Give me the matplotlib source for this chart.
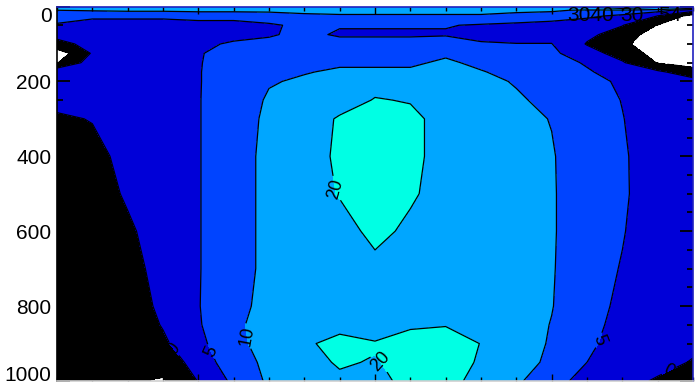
import numpy as np
import matplotlib.pyplot as plt
from matplotlib.ticker import MultipleLocator

plt.rcParams['font.family'] = ['Liberation Sans Narrow', 'Liberation Sans', 'DejaVu Sans']

# grid of the section
lon = [110, 120, 130, 140, 150, 160, 170, 180, 190, 200, 210, 220, 230, 240, 250, 260, 270, 280, 290]
depth = [0, 10, 25, 50, 75, 100, 125, 150, 175, 200, 250, 300, 400, 500, 600, 700, 800, 850, 900, 950, 1000]

# values down each column (same order as depth)
col_110 = [12, 10, 7, 4.5, 1, -1, -8, -5.3, 4, 4, 2, -1, -3, -3, -3, -3, -3, -3, -3, -3, -3]
col_120 = [12, 10.5, 5.5, 4, 3, 1, 0.5, 2.5, 4, 4, 3, 0.3, -2, -3, -3, -3, -3, -3, -3, -3, -3]
col_130 = [12.5, 11, 5.5, 4, 4, 4, 4, 4, 4, 4, 3.5, 3, 2, 0.8, -1, -2, -2.5, -3, -3, -3.5, -4.5]
col_140 = [13, 11, 5.5, 4, 4, 4.2, 4.2, 4.2, 4.2, 4.2, 4, 4, 3.8, 3.5, 3, 2, 1, 0.3, -0.8, -3, -5.5]
col_150 = [13, 11.5, 6, 4, 4, 4.5, 4.8, 4.8, 4.8, 4.8, 4.8, 4.8, 4.8, 4.8, 4.8, 4.8, 4.8, 4.5, 3.5, 2, 0.2]
col_160 = [13.5, 11.5, 6, 4, 4.3, 5.3, 6, 6.5, 7, 7, 7.5, 7.5, 7.5, 7.5, 7.5, 7.5, 8.5, 9.5, 9.3, 8, 6]
col_170 = [14, 11.5, 7, 4.5, 4.6, 6, 7, 8, 8.8, 9.7, 10.5, 11, 11.5, 11.5, 11.5, 11.5, 11.5, 11, 11, 11, 10.8]
col_180 = [14, 11.5, 9, 5.8, 6, 7, 8, 9, 9.8, 10.5, 13, 15, 16, 16, 15.5, 15, 17.5, 18, 19.5, 19, 17.5]
col_190 = [14, 11.5, 9.5, 5.3, 4.5, 6.5, 8, 9.5, 10.5, 12, 16, 21, 21.5, 20.5, 17, 16, 18, 19, 21, 20.3, 19.5]
col_200 = [14, 11.5, 9.5, 5.3, 4.5, 6.5, 8, 9.5, 10.5, 17, 20.5, 23, 23.5, 23, 22, 18, 17.5, 18, 20.3, 19.8, 19.5]
col_210 = [14, 11.5, 9.5, 5.3, 4.5, 6.5, 8, 9.5, 10.5, 15, 19.5, 22, 22, 21, 18.5, 16, 18, 19.5, 21.5, 21, 20.5]
col_220 = [14, 11.5, 9.5, 5.3, 4.5, 8, 9.5, 10.5, 11.5, 13, 15, 17, 17, 17, 16, 15, 18.5, 19.8, 22, 22, 21.5]
col_230 = [14, 11.5, 9.5, 4.5, 3.5, 5.5, 7.5, 9.3, 10.2, 11, 12.5, 13.5, 14, 14, 14, 14, 16, 17, 19.9, 19.5, 18.5]
col_240 = [14.5, 11.5, 8, 4, 3.5, 5.1, 6.5, 8, 9, 9.7, 10.5, 11.5, 12, 12, 12, 12, 12.5, 12.5, 12.5, 12, 10.5]
col_250 = [15, 11, 7, 3.5, 3.5, 5.1, 6, 7, 7.5, 8, 9, 9.8, 10.4, 10.5, 10.5, 10.4, 10.2, 9.8, 9.5, 9, 8]
col_260 = [22, 9, 6, 2, 1, -0.3, 2, 4.5, 5.5, 6, 6.5, 6.5, 6.8, 6.8, 6.8, 6.5, 6.3, 6, 5.7, 5, 2]
col_270 = [32, 9, 4, 0.2, -2, -4, -2, 0.5, 3, 4.5, 4.9, 5.1, 5.4, 5.5, 5.2, 4.8, 4.3, 4, 3.5, 2.5, 1.5]
col_280 = [24, 7, 0, -5.2, -8, -8, -7, -5.3, 1, 3.5, 3.5, 3.3, 3.2, 3, 3, 3, 2.8, 2.5, 2, 1.5, -0.5]
col_290 = [18, 2, -7, -10, -10, -10, -9, -7, -3, 2, 2.5, 2.5, 2.5, 2.5, 2.5, 2.5, 2.5, 2, 1, -0.3, -2]

levels = [-5, 0, 5, 10, 20, 30, 40]
line_levels = [-5, 0, 5, 10, 20, 30]
fill_colors = ['#000000', '#0000d8', '#0044ff', '#00a6ff', '#00ffe4', '#b4f01e']

# where the contour values are written
label_pos = [(188.5, 487), (201, 950), (161.3, 884), (153.3, 923),
             (265.2, 897), (142, 923), (283, 968)]

y_ticks = [0, 200, 400, 600, 800, 1000]
y_labels = ['0', '200', '400', '600', '800', '1000']

field = np.array([col_110, col_120, col_130, col_140, col_150, col_160, col_170,
                  col_180, col_190, col_200, col_210, col_220, col_230, col_240,
                  col_250, col_260, col_270, col_280, col_290]).T

fig = plt.figure(figsize=(6.98, 3.84), dpi=100)
ax = fig.add_axes([57/698, 1-381/384, 636/698, 374.5/384])
ax.set_facecolor('white')

ax.contourf(lon, depth, field, levels=levels, colors=fill_colors)
cs = ax.contour(lon, depth, field, levels=line_levels, colors='black', linewidths=0.9)
labs = ax.clabel(cs, manual=label_pos, fmt='%d', fontsize=13, inline=True, inline_spacing=3)
for t in labs:
    t.set_fontfamily(['Liberation Sans Narrow', 'Liberation Sans', 'DejaVu Sans'])

# crowded labels at the surface on the right
for x, s in [(254.5, '3040'), (269.5, '30'), (280.0, '54')]:
    ax.text(x, 25, s, fontsize=15, ha='left', va='center', color='black')

ax.set_xlim(110, 290)
ax.set_ylim(1000, 0)
ax.xaxis.set_major_locator(MultipleLocator(50))
ax.xaxis.set_minor_locator(MultipleLocator(10))
ax.set_yticks(y_ticks)
ax.set_yticklabels(y_labels)
ax.yaxis.set_minor_locator(MultipleLocator(50))

ax.tick_params(axis='x', which='both', direction='in', top=True, bottom=True, labelbottom=False, width=1)
ax.tick_params(axis='x', which='major', length=5)
ax.tick_params(axis='x', which='minor', length=3)
ax.tick_params(axis='y', which='both', direction='in', left=True, right=True, width=1.3)
ax.tick_params(axis='y', which='major', length=9.5, labelsize=15, pad=4)
ax.tick_params(axis='y', which='minor', length=4.5)

# keep the end labels inside the frame
ylabs = ax.get_yticklabels()
ylabs[0].set_va('top')
ylabs[-1].set_va('baseline')

for side in ['top', 'right']:
    ax.spines[side].set_color('#2020c0')
ax.spines['bottom'].set_color('#d0d0d0')
for sp in ax.spines.values():
    sp.set_linewidth(1.2)

fig.savefig('out.png', dpi=100)
